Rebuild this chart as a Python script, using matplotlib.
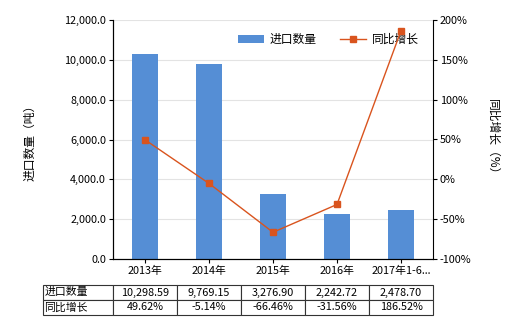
import matplotlib
matplotlib.use("Agg")
import matplotlib.pyplot as plt
from matplotlib.ticker import FuncFormatter

plt.rcParams['font.family'] = ['Noto Sans CJK SC', 'DejaVu Sans']

years = ["2013年", "2014年", "2015年", "2016年", "2017年1-6..."]
volume = [10298.59, 9769.15, 3276.90, 2242.72, 2478.70]
growth = [49.62, -5.14, -66.46, -31.56, 186.52]
vol_label = "进口数量"
growth_label = "同比增长"

bar_color = "#558ED5"
line_color = "#D9541E"

fig = plt.figure(figsize=(5.2, 3.3), dpi=100)
ax = fig.add_axes([113 / 520, 1 - 259 / 330, 320 / 520, 239 / 330])
ax2 = ax.twinx()

x = list(range(len(years)))
ax.bar(x, volume, width=0.4, color=bar_color, label=vol_label, zorder=2)
ax2.plot(x, growth, color=line_color, lw=1, marker="s", markersize=4, label=growth_label, zorder=3)

ax.set_xlim(-0.5, len(years) - 0.5)
ax.set_ylim(0, 12000)
ax.set_yticks(range(0, 12001, 2000))
ax.yaxis.set_major_formatter(FuncFormatter(lambda v, p: f"{v:,.1f}"))
ax2.set_ylim(-100, 200)
ax2.set_yticks(range(-100, 201, 50))
ax2.yaxis.set_major_formatter(FuncFormatter(lambda v, p: f"{v:.0f}%"))

ax.grid(axis="y", color="#e3e3e3", lw=0.8, zorder=0)
ax.set_axisbelow(True)
ax.set_xticks(x)
ax.set_xticklabels(years)
for a in (ax, ax2):
    a.spines["top"].set_visible(False)
    a.tick_params(labelsize=7.8, length=3, width=0.8, pad=2)
ax.spines["right"].set_visible(False)

ax.set_ylabel("进口数量（吨）", fontsize=8.5, labelpad=20)
ax2.set_ylabel("同比增长（%）", fontsize=8.5, rotation=270, labelpad=20)

h1, l1 = ax.get_legend_handles_labels()
h2, l2 = ax2.get_legend_handles_labels()
ax.legend(h1 + h2, l1 + l2, loc="upper right", bbox_to_anchor=(0.99, 0.99), ncol=2,
          frameon=False, fontsize=8.5, handlelength=2.2, columnspacing=2.0, handletextpad=0.5)

cells = [[vol_label] + [f"{v:,.2f}" for v in volume],
         [growth_label] + [f"{g:.2f}%" for g in growth]]
tbl = ax.table(cellText=cells, cellLoc="center",
               colWidths=[70 / 390] + [64 / 390] * len(years),
               bbox=[-70 / 320, -56 / 239, 390 / 320, 30 / 239])
tbl.auto_set_font_size(False)
tbl.set_fontsize(7.8)
for (r, c), cell in tbl.get_celld().items():
    cell.set_linewidth(0.8)
    cell.set_edgecolor("#333333")
    if c == 0:
        cell.set_text_props(ha="left")
        cell.PAD = 0.02

fig.savefig("out.png", dpi=100)
